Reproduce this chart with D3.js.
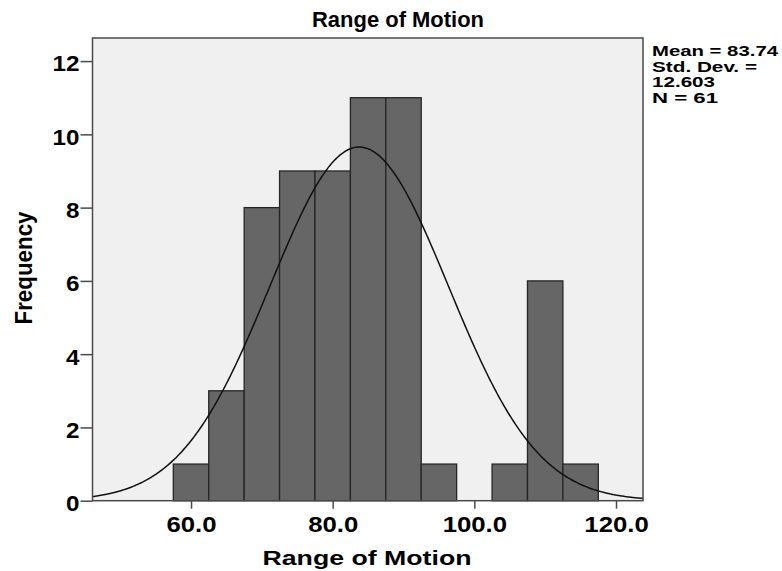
<!DOCTYPE html>
<html>
<head>
<meta charset="utf-8">
<script src="https://cdn.jsdelivr.net/npm/d3@7"></script>
<style>
  html, body { margin: 0; padding: 0; background: #ffffff; }
  svg { display: block; }
  text { font-family: "Liberation Sans", Arial, sans-serif; font-weight: bold; fill: #000; }
</style>
</head>
<body>
<svg id="chart" width="782" height="571"></svg>
<script>
// Histogram bins (lower edges) and frequencies
const binStarts = [57.5, 62.5, 67.5, 72.5, 77.5, 82.5, 87.5, 92.5, 97.5, 102.5, 107.5, 112.5];
const binCounts = [1, 3, 8, 9, 9, 11, 11, 1, 0, 1, 6, 1];
const binWidth = 5;

// Axis ticks
const xTicks = [60, 80, 100, 120];
const yTicks = [0, 2, 4, 6, 8, 10, 12];

// Summary statistics
const statMean = 83.74;
const statSd = 12.603;
const statN = 61;
const statLines = ["Mean = 83.74", "Std. Dev. =", "12.603", "N = 61"];

const titleText = "Range of Motion";
const xTitle = "Range of Motion";
const yTitle = "Frequency";

const svg = d3.select("#chart");
const plot = { left: 92.5, right: 643, top: 38, bottom: 500.7 };

const x = d3.scaleLinear().domain([46.09, 123.81]).range([plot.left, plot.right]);
const y = d3.scaleLinear().domain([0, 12.63]).range([plot.bottom, plot.top]);

// Widen a text horizontally by a factor, keeping its font height
function widen(sel, factor) {
  sel.each(function () {
    const w = this.getComputedTextLength();
    d3.select(this).attr("textLength", w * factor).attr("lengthAdjust", "spacingAndGlyphs");
  });
}

// Plot background
svg.append("rect")
  .attr("x", plot.left).attr("y", plot.top)
  .attr("width", plot.right - plot.left).attr("height", plot.bottom - plot.top)
  .attr("fill", "#f0f0f0");

// Bars
const bins = binStarts.map((s, i) => ({ x0: s, x1: s + binWidth, n: binCounts[i] }));
svg.append("g").selectAll("rect")
  .data(bins.filter(d => d.n > 0))
  .join("rect")
  .attr("x", d => x(d.x0))
  .attr("y", d => y(d.n))
  .attr("width", d => x(d.x1) - x(d.x0))
  .attr("height", d => y(0) - y(d.n))
  .attr("fill", "#666666")
  .attr("stroke", "#262626")
  .attr("stroke-width", 1.3);

// Fitted normal curve scaled to counts
const pdf = v => Math.exp(-0.5 * ((v - statMean) / statSd) ** 2) / (statSd * Math.sqrt(2 * Math.PI));
const curvePts = d3.range(0, 401).map(i => {
  const v = x.domain()[0] + (x.domain()[1] - x.domain()[0]) * i / 400;
  return [v, statN * binWidth * pdf(v)];
});
svg.append("path")
  .datum(curvePts)
  .attr("fill", "none")
  .attr("stroke", "#111")
  .attr("stroke-width", 1.5)
  .attr("d", d3.line().x(d => x(d[0])).y(d => y(d[1])).curve(d3.curveBasis));

// Frame
svg.append("rect")
  .attr("x", plot.left).attr("y", plot.top)
  .attr("width", plot.right - plot.left).attr("height", plot.bottom - plot.top)
  .attr("fill", "none").attr("stroke", "#4a4a4a").attr("stroke-width", 1.5);

// Axes
const yAxis = svg.append("g")
  .attr("transform", `translate(${plot.left},0)`)
  .call(d3.axisLeft(y).tickValues(yTicks).tickSize(12).tickPadding(1).tickFormat(d3.format("d")));
const xAxis = svg.append("g")
  .attr("transform", `translate(0,${plot.bottom})`)
  .call(d3.axisBottom(x).tickValues(xTicks).tickSize(8).tickPadding(8).tickFormat(d3.format(".1f")));

[yAxis, xAxis].forEach(g => {
  g.select(".domain").remove();
  g.selectAll(".tick line").attr("stroke", "#4a4a4a").attr("stroke-width", 1.5);
  g.selectAll(".tick text")
    .attr("font-family", "Liberation Sans, Arial, sans-serif")
    .attr("font-weight", "bold")
    .attr("font-size", 22)
    .attr("fill", "#000");
});
yAxis.selectAll(".tick text").attr("dy", "0.45em").call(widen, 1.1);
xAxis.selectAll(".tick text").call(widen, 1.17);

// Title
svg.append("text")
  .attr("x", 398).attr("y", 27)
  .attr("text-anchor", "middle")
  .attr("font-size", 22)
  .attr("textLength", 172).attr("lengthAdjust", "spacingAndGlyphs")
  .text(titleText);

// X axis title
svg.append("text")
  .attr("x", 367).attr("y", 565)
  .attr("text-anchor", "middle")
  .attr("font-size", 21)
  .attr("textLength", 209).attr("lengthAdjust", "spacingAndGlyphs")
  .text(xTitle);

// Y axis title
svg.append("text")
  .attr("transform", "translate(32,268) rotate(-90)")
  .attr("text-anchor", "middle")
  .attr("font-size", 24)
  .attr("textLength", 113).attr("lengthAdjust", "spacingAndGlyphs")
  .text(yTitle);

// Statistics block
const statWidths = [126, 105, 63, 66];
svg.append("g").selectAll("text")
  .data(statLines)
  .join("text")
  .attr("x", 652)
  .attr("y", (d, i) => 56 + i * 15.6)
  .attr("font-size", 14)
  .attr("textLength", (d, i) => statWidths[i])
  .attr("lengthAdjust", "spacingAndGlyphs")
  .text(d => d);
</script>
</body>
</html>
